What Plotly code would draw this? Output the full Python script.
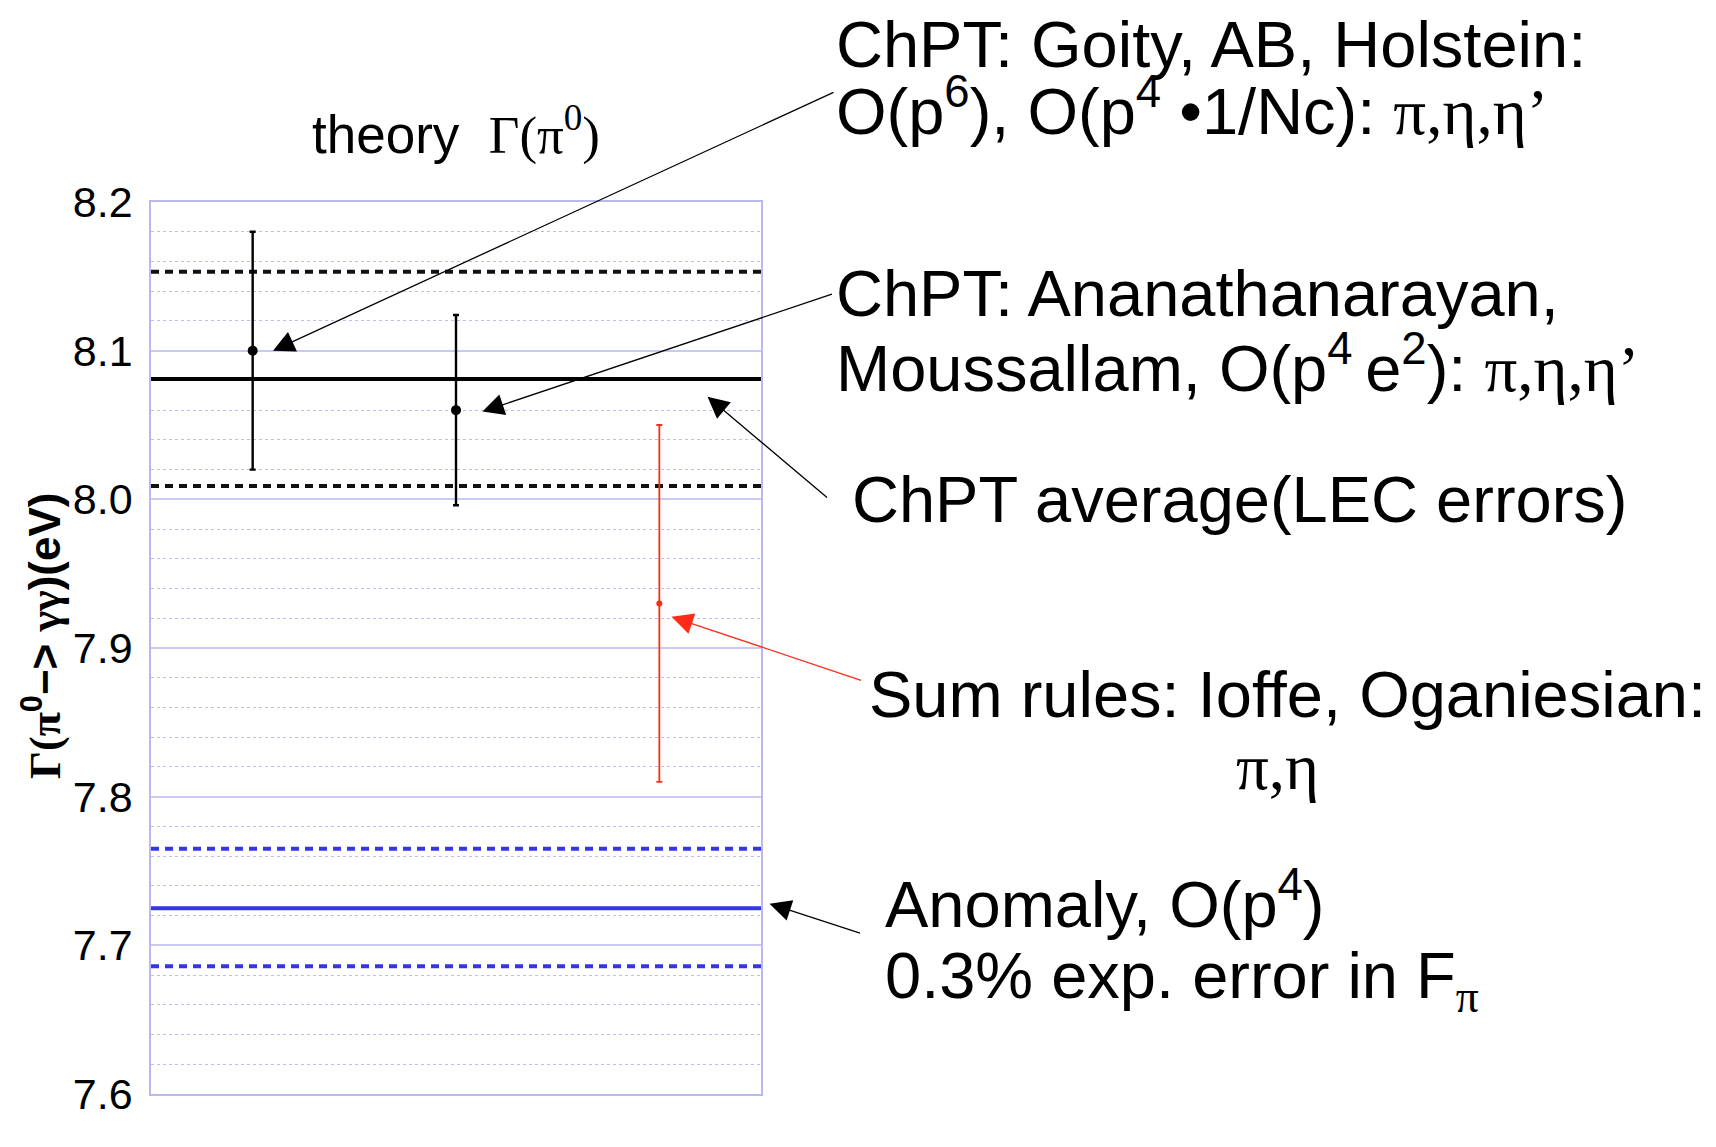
import plotly.graph_objects as go

# ---- data ----
points_x = [1, 2, 3]
points_y = [8.10, 8.06, 7.93]
points_err = [0.08, 0.064, 0.12]
points_color = ["black", "black", "#ff2a1a"]

chpt_avg = 8.081
chpt_band = [8.153, 8.009]
anomaly = 7.725
anomaly_band = [7.765, 7.686]

y_ticks = [7.6, 7.7, 7.8, 7.9, 8.0, 8.1, 8.2]
x_span = [0.5, 3.5]

W, H = 1716, 1147
L, R, T, B = 143, 753, 194, 1086

fig = go.Figure()

# horizontal reference lines
fig.add_trace(go.Scatter(x=x_span, y=[chpt_avg] * 2, mode="lines",
                         line=dict(color="black", width=4), showlegend=False))
for v in chpt_band:
    fig.add_trace(go.Scatter(x=x_span, y=[v] * 2, mode="lines",
                             line=dict(color="#111111", width=4, dash="8px,6px"), showlegend=False))
fig.add_trace(go.Scatter(x=x_span, y=[anomaly] * 2, mode="lines",
                         line=dict(color="#3535e6", width=4), showlegend=False))
for v in anomaly_band:
    fig.add_trace(go.Scatter(x=x_span, y=[v] * 2, mode="lines",
                             line=dict(color="#3535e6", width=4, dash="8px,6px"), showlegend=False))

# points with error bars
for x, y, e, c in zip(points_x, points_y, points_err, points_color):
    red = c != "black"
    fig.add_trace(go.Scatter(
        x=[x], y=[y], mode="markers",
        marker=dict(color=c, size=6 if red else 10),
        error_y=dict(type="data", array=[e], color=c, thickness=1.8 if red else 2.4, width=3),
        showlegend=False))

def px(X):
    return (X - L) / (R - L)

def py(Y):
    return (B - Y) / (B - T)

SERIF = "font-family:Liberation Serif"
TF = dict(family="Liberation Sans, Arial", size=65, color="black")

texts = [
    ("ChPT: Goity, AB, Holstein:", 826, 36, "left"),
    (f'O(p<sup>6</sup>), O(p<sup>4</sup> •1/Nc): <span style="{SERIF}">π,η,η’</span>', 826, 99, "left"),
    ("ChPT: Ananathanarayan,", 826, 285, "left"),
    (f'Moussallam, O(p<sup>4 </sup>e<sup>2</sup>): <span style="{SERIF}">π,η,η’</span>', 826, 356, "left"),
    ("ChPT average(LEC errors)", 842, 492, "left"),
    ("Sum rules: Ioffe, Oganiesian:", 859, 686, "left"),
    (f'<span style="{SERIF}">π,η</span>', 1269, 759, "center"),
    ("Anomaly, O(p<sup>4</sup>)", 875, 892, "left"),
    (f'0.3% exp. error in F<sub><span style="{SERIF}">π</span></sub>', 875, 972, "left"),
]
for t, X, Y, anc in texts:
    fig.add_annotation(text=t, x=px(X), y=py(Y), xref="paper", yref="paper",
                       xanchor=anc, yanchor="middle", showarrow=False, font=TF)

# arrows (head in data coords, tail as pixel offsets)
arrows = [
    dict(x=1.1, y=8.10, xref="x", yref="y", ax=562, ay=-259, color="black"),
    dict(x=2.13, y=8.059, xref="x", yref="y", ax=351, ay=-118, color="black"),
    dict(x=3.237, y=8.069, xref="x", yref="y", ax=121, ay=102, color="black"),
    dict(x=3.06, y=7.921, xref="x", yref="y", ax=191, ay=64, color="#ff2a1a"),
    dict(x=1.014, y=7.728, xref="paper", yref="y", ax=92, ay=30, color="black"),
]
for a in arrows:
    fig.add_annotation(x=a["x"], y=a["y"], xref=a["xref"], yref=a["yref"],
                       ax=a["ax"], ay=a["ay"], axref="pixel", ayref="pixel",
                       text="", showarrow=True, arrowhead=2, arrowsize=3.3,
                       arrowwidth=1.3, arrowcolor=a["color"])

# y axis label
fig.add_annotation(
    text=f'<b><span style="{SERIF}">Γ(π</span><sup>0</sup>−> <span style="{SERIF}">γγ</span>)(eV)</b>',
    x=px(34), y=py(628), xref="paper", yref="paper", textangle=-90,
    xanchor="center", yanchor="middle",
    showarrow=False, font=dict(family="Liberation Sans, Arial", size=44, color="black"))

fig.update_layout(
    width=W, height=H, autosize=False,
    margin=dict(l=L, r=W - R, t=T, b=H - B),
    paper_bgcolor="white", plot_bgcolor="white",
    title=dict(text=f'theory  <span style="{SERIF}">Γ(π<sup>0</sup>)</span>',
               xref="paper", x=0.5, xanchor="center",
               yref="container", y=1 - 126 / H, yanchor="middle",
               font=dict(family="Liberation Sans, Arial", size=53, color="black")),
    xaxis=dict(range=x_span, showticklabels=False, showgrid=False, zeroline=False,
               showline=True, mirror=True, linecolor="#b9b9f0", linewidth=1.5, ticks=""),
    yaxis=dict(range=[7.6, 8.2], tickvals=y_ticks, ticktext=[f"{v:.1f}" for v in y_ticks],
               showgrid=True, gridcolor="#c9c9f3", gridwidth=1.5, zeroline=False,
               showline=True, mirror=True, linecolor="#b9b9f0", linewidth=1.5, ticks="",
               ticklabelstandoff=8,
               tickfont=dict(family="Liberation Sans, Arial", size=43, color="black"),
               minor=dict(dtick=0.02, tick0=7.6, showgrid=True, gridcolor="#bdbdf3",
                          griddash="dot", gridwidth=1)),
)

fig.write_html("out.html")
